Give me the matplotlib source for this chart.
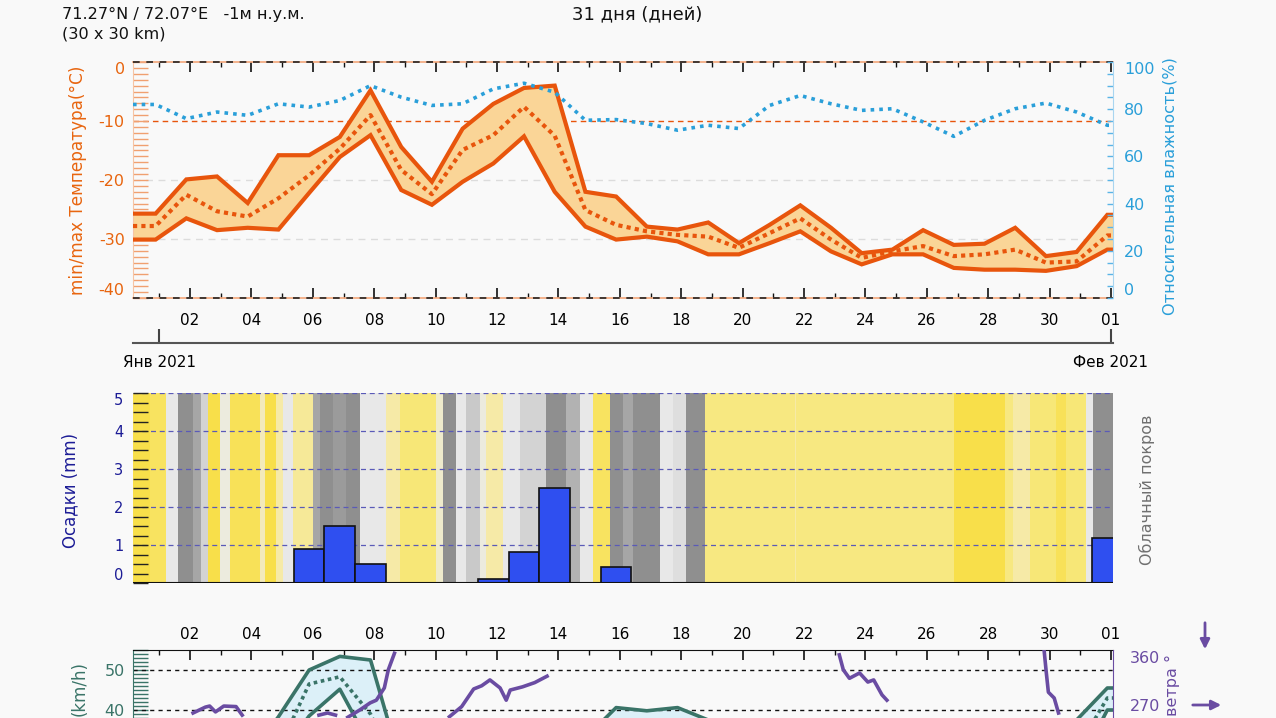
import numpy as np
import matplotlib
matplotlib.use('Agg')
import matplotlib.pyplot as plt
from matplotlib.colors import LinearSegmentedColormap
from matplotlib.ticker import MultipleLocator

# ---------------- data ----------------
day_idx = np.arange(32)            # 0 = 1 Jan 2021 ... 31 = 1 Feb 2021
sample_shift = -0.12               # daily samples sit slightly before midnight on the axis

t_max = [-25.7, -19.9, -19.4, -23.9, -15.8, -15.8, -12.7, -4.8, -14.4, -20.3, -11.3, -7.1,
         -4.4, -4.0, -22.0, -22.8, -27.9, -28.4, -27.2, -30.7, -27.6, -24.3, -28.1, -32.4,
         -31.8, -28.5, -31.0, -30.8, -28.1, -32.9, -32.2, -25.9]
t_min = [-30.1, -26.5, -28.5, -28.1, -28.4, -22.2, -16.1, -12.4, -21.7, -24.2, -20.3, -17.2,
         -12.6, -22.0, -27.9, -30.1, -29.6, -30.4, -32.6, -32.6, -30.7, -28.7, -32.1, -34.3,
         -32.6, -32.6, -34.9, -35.2, -35.2, -35.4, -34.6, -31.8]
t_mean = [-27.8, -22.5, -25.3, -26.2, -23.1, -19.2, -14.7, -9.0, -18.3, -22.4, -14.9, -12.4,
          -7.6, -12.5, -25.1, -27.6, -28.7, -29.3, -29.6, -31.5, -29.0, -26.5, -30.1, -33.2,
          -32.1, -31.2, -32.9, -32.6, -31.8, -34.0, -33.8, -29.4]
humidity = [82.0, 76.0, 78.8, 77.4, 82.3, 80.9, 83.7, 90.0, 85.1, 81.6, 82.3, 88.6,
            91.0, 87.2, 75.3, 75.6, 73.9, 71.1, 73.2, 71.8, 81.6, 85.8, 82.3, 79.5,
            80.2, 74.6, 68.5, 75.3, 80.2, 82.6, 78.8, 73.2]
precip = [0, 0, 0, 0, 0, 0.90, 1.51, 0.51, 0, 0, 0, 0.11,
          0.82, 2.51, 0, 0.43, 0, 0, 0, 0, 0, 0, 0, 0,
          0, 0, 0, 0, 0, 0, 0, 1.19]

# cloud cover (%) segments: start time in days from 1 Jan
cloud_start = [-0.86, -0.31, 0.23, 0.61, 1.10, 1.37, 1.59, 1.97, 2.29, 3.27, 3.43, 3.81,
               4.03, 4.36, 5.01, 5.22, 5.66, 6.09, 6.53, 7.39, 7.83, 9.02, 9.24, 9.67,
               10.0, 10.44, 10.65, 11.2, 11.74, 12.6, 13.26, 13.69, 14.13, 14.67, 15.1, 15.43,
               16.3, 16.73, 17.17, 17.77, 20.7, 20.75, 25.9, 27.54, 27.8, 28.35, 29.22, 29.54,
               30.2, 30.42]
cloud_pct = [5, 10, 55, 100, 85, 65, 5, 45, 8, 35, 5, 30,
             55, 25, 85, 100, 92, 100, 55, 30, 15, 40, 100, 55,
             70, 45, 30, 55, 65, 100, 80, 55, 10, 100, 85, 100,
             55, 60, 100, 18, 30, 18, 5, 18, 30, 15, 8, 15,
             55, 100]

wind_max = [20, 22, 24, 28, 38.3, 50.0, 53.4, 52.5, 26, 18, 16, 20,
            24, 28, 33, 40.6, 39.8, 40.6, 37.5, 30, 25, 24, 22, 20,
            18, 18, 20, 22, 24, 28, 37.5, 45.5]
wind_mean = [15, 17, 19, 22, 30, 46.5, 48.3, 39.0, 22, 14, 12, 15,
             18, 22, 27, 37.0, 36.5, 37.5, 33, 25, 20, 19, 17, 15,
             14, 14, 15, 17, 19, 22, 30, 43.0]
wind_min = [10, 12, 14, 17, 28, 38.5, 45.2, 31, 18, 10, 8, 10,
            13, 16, 21, 33, 33, 34, 29, 20, 16, 15, 13, 11,
            10, 10, 11, 13, 15, 17, 25, 40.0]

# wind direction (deg), visible segments only (NaN separates segments)
wdir_day = [1.10, 1.50, 1.64, 1.83, 2.10, 2.50, 2.70, np.nan,
            5.20, 5.48, 5.74, np.nan,
            6.14, 6.54, 6.87, 7.07, 7.33, 7.46, 7.66, np.nan,
            9.45, 9.85, 10.24, 10.50, 10.77, 11.10, 11.30, 11.43, 11.83, 12.23, 12.63, np.nan,
            22.15, 22.28, 22.48, 22.81, 23.08, 23.27, 23.54, 23.70, np.nan,
            28.82, 28.89, 28.96, 29.15, 29.29]
wdir_deg = [255, 266, 268, 257, 268, 267, 251, np.nan,
            251, 255, 251, np.nan,
            247, 261, 274, 279, 302, 336, 367, np.nan,
            248, 267, 300, 306, 317, 302, 279, 298, 304, 312, 324, np.nan,
            364, 336, 320, 330, 313, 317, 289, 279, np.nan,
            373, 332, 294, 283, 255]

day_labels = ['02', '04', '06', '08', '10', '12', '14', '16', '18', '20', '22', '24',
              '26', '28', '30', '01']
month_labels = ['Янв 2021', 'Фев 2021']
temp_ticks = [-40, -30, -20, -10, 0]
temp_tick_labels = ['-40', '-30', '-20', '-10', '0']
hum_ticks = [0, 20, 40, 60, 80, 100]
precip_ticks = [0, 1, 2, 3, 4, 5]
wind_ticks = [40, 50]
wdir_ticks = [270, 360]

# ---------------- layout ----------------
W, H = 1276, 718
BG = '#f9f9f9'
ORANGE = '#e8550c'
ORANGE_TXT = '#e8650f'
BLUE = '#2a9fd9'
NAVY = '#1c1c96'
TEAL = '#3a7468'
PURPLE = '#6a4ca2'

fig = plt.figure(figsize=(W / 100, H / 100), dpi=100, facecolor=BG)

def fax(left, top, right, bottom):
    return [left / W, (H - bottom) / H, (right - left) / W, (bottom - top) / H]

x_left = (133 - 159.3) / 30.7
x_right = (1113 - 159.3) / 30.7

xs = day_idx + sample_shift
xs_ext = np.concatenate([[x_left], xs, [x_right]])
def ext(v):
    v = list(v)
    return np.array([v[0]] + v + [v[-1]])

major_days = day_idx[1::2]

# ---------- panel 1: temperature / humidity ----------
ax1 = fig.add_axes(fax(133, 62, 1113, 298))
ax1.set_facecolor(BG)
ax1.set_xlim(x_left, x_right)
ax1.set_ylim(-40, 0)
ax1.fill_between(xs_ext, ext(t_min), ext(t_max), color='#fad597', lw=0, zorder=2)
ax1.plot(xs_ext, ext(t_max), color=ORANGE, lw=3, zorder=3, solid_joinstyle='miter')
ax1.plot(xs_ext, ext(t_min), color=ORANGE, lw=3, zorder=3, solid_joinstyle='miter')
ax1.plot(xs_ext, ext(t_mean), color=ORANGE, lw=3, ls=(0, (1, 1)), zorder=3)
ax1.axhline(-10, color=ORANGE, lw=1, ls=(0, (4, 3)), zorder=1)
for g in (-20, -30):
    ax1.axhline(g, color='#dcdcdc', lw=1, ls=(0, (5, 4)), zorder=1)
for g in (0, -40):
    ax1.axhline(g, color='#f4a77a', lw=1.2, zorder=4, clip_on=False)
    ax1.axhline(g, color='#222222', lw=1.2, ls=(0, (4, 4)), zorder=4, clip_on=False)
for s in ('top', 'bottom', 'right'):
    ax1.spines[s].set_visible(False)
ax1.spines['left'].set_color('#f6c4a4')
ax1.set_yticks(temp_ticks)
ax1.set_yticklabels(temp_tick_labels)
ax1.yaxis.set_minor_locator(MultipleLocator(1))
ax1.tick_params(axis='y', which='both', direction='in', length=11, width=1,
                color='#f0a070', labelcolor=ORANGE_TXT, labelsize=11.5, pad=6)
ylabs = ax1.get_yticklabels()
ylabs[0].set_va('bottom')
ylabs[-1].set_va('top')
ax1.set_xticks(major_days)
ax1.set_xticklabels(day_labels)
ax1.set_xticks(day_idx, minor=True)
ax1.tick_params(axis='x', which='major', direction='in', length=7, width=1.2,
                top=True, bottom=True, labelsize=11, pad=11, color='#111111')
ax1.tick_params(axis='x', which='minor', direction='in', length=3.5, width=1,
                top=True, bottom=True, color='#111111')

ax1h = ax1.twinx()
ax1h.set_ylim(0, 100)
ax1h.plot(xs_ext, ext(humidity), color=BLUE, lw=2.6, ls=(0, (1, 1.4)), zorder=5)
for s in ('top', 'bottom', 'left'):
    ax1h.spines[s].set_visible(False)
ax1h.spines['right'].set_color('#a9d5f0')
ax1h.set_yticks(hum_ticks)
ax1h.set_yticklabels([str(v) for v in hum_ticks])
ax1h.yaxis.set_minor_locator(MultipleLocator(5))
ax1h.tick_params(axis='y', which='both', direction='in', length=4, width=1,
                 color='#5ab4e6', labelcolor=BLUE, labelsize=11.5, pad=8)
hl = ax1h.get_yticklabels()
hl[0].set_va('bottom')
hl[-1].set_va('top')

# month axis under panel 1
axm = fig.add_axes(fax(133, 342.6, 1113, 342.8))
axm.patch.set_visible(False)
axm.set_xlim(x_left, x_right)
for s in ('top', 'left', 'right'):
    axm.spines[s].set_visible(False)
axm.spines['bottom'].set_color('#555555')
axm.spines['bottom'].set_linewidth(1.5)
axm.set_yticks([])
axm.set_xticks([day_idx[0], day_idx[-1]])
axm.set_xticklabels(month_labels)
axm.tick_params(axis='x', direction='in', length=10, width=1.5, color='#444444',
                labelsize=11, pad=9)

# ---------- panel 2: precipitation / cloud cover ----------
ax2 = fig.add_axes(fax(133, 393.3, 1113, 583.3))
ax2.set_facecolor(BG)
ax2.set_xlim(x_left, x_right)
ax2.set_ylim(0, 5)
cmap = LinearSegmentedColormap.from_list('cloud', [
    (0.0, '#f9db36'), (0.15, '#f7e777'), (0.3, '#f6eaa8'), (0.45, '#ecebde'),
    (0.55, '#e8e8e8'), (0.7, '#c9c9c9'), (0.85, '#a6a6a6'), (1.0, '#8f8f8f')])
cx = np.array(list(cloud_start) + [x_right])
ax2.pcolormesh(cx, [0, 5], np.array([cloud_pct]) / 100.0, cmap=cmap, vmin=0, vmax=1,
               shading='flat', zorder=0)
for g in range(1, 6):
    ax2.axhline(g, color='#5a5ab8', lw=0.9, ls=(0, (4, 3)), zorder=1)
ax2.bar(xs, precip, width=1.0, color='#2f4ff0', edgecolor='#111111', lw=1.2, zorder=2)
ax2.axhline(0, color='#111111', lw=1.5, zorder=3)
for s in ('top', 'bottom', 'right', 'left'):
    ax2.spines[s].set_visible(False)
ax2.set_xticks([])
ax2.set_yticks(precip_ticks)
ax2.set_yticklabels([str(v) for v in precip_ticks])
ax2.yaxis.set_minor_locator(MultipleLocator(0.25))
ax2.tick_params(axis='y', which='both', direction='in', length=11, width=1,
                color='#222222', labelcolor=NAVY, labelsize=10.5, pad=7)
pl = ax2.get_yticklabels()
pl[0].set_va('bottom')
pl[-1].set_va('top')

# ---------- panel 3: wind ----------
ax3 = fig.add_axes(fax(133, 650, 1113, 870))
ax3.set_facecolor(BG)
ax3.set_xlim(x_left, x_right)
ax3.set_ylim(0, 55)
ax3.fill_between(xs_ext, ext(wind_min), ext(wind_max), color='#dcf0f8', lw=0, zorder=1)
ax3.plot(xs_ext, ext(wind_max), color=TEAL, lw=2.6, zorder=3)
ax3.plot(xs_ext, ext(wind_min), color=TEAL, lw=2.6, zorder=3)
ax3.plot(xs_ext, ext(wind_mean), color=TEAL, lw=2.6, ls=(0, (1, 1)), zorder=3)
for g in (10, 20, 30, 40, 50):
    ax3.axhline(g, color='#111111', lw=1, ls=(0, (3, 3)), zorder=2)
for s in ('bottom', 'right'):
    ax3.spines[s].set_visible(False)
ax3.spines['top'].set_color('#111111')
ax3.spines['left'].set_color(TEAL)
ax3.set_yticks(wind_ticks)
ax3.set_yticklabels([str(v) for v in wind_ticks])
ax3.yaxis.set_minor_locator(MultipleLocator(1))
ax3.tick_params(axis='y', which='both', direction='in', length=11, width=1,
                color=TEAL, labelcolor=TEAL, labelsize=11.5, pad=6)
ax3.xaxis.tick_top()
ax3.set_xticks(major_days)
ax3.set_xticklabels(day_labels)
ax3.set_xticks(day_idx, minor=True)
ax3.tick_params(axis='x', which='major', direction='in', length=7, width=1.2,
                top=True, bottom=False, labeltop=True, labelbottom=False,
                labelsize=11, pad=6, color='#111111')
ax3.tick_params(axis='x', which='minor', direction='in', length=3.5, width=1,
                top=True, bottom=False, color='#111111')

ax3d = ax3.twinx()
ax3d.set_ylim(-39.4, 373.1)
ax3d.plot(wdir_day, wdir_deg, color=PURPLE, lw=2.6, zorder=5)
for s in ('top', 'bottom', 'left'):
    ax3d.spines[s].set_visible(False)
ax3d.spines['right'].set_color(PURPLE)
ax3d.set_yticks(wdir_ticks)
ax3d.set_yticklabels([str(v) for v in wdir_ticks])
ax3d.tick_params(axis='y', direction='in', length=0, labelcolor=PURPLE,
                 labelsize=11.5, pad=12)

# arrows at right of wind panel
fig.add_artist(matplotlib.patches.FancyArrowPatch(
    (1205 / W, (H - 620) / H), (1205 / W, (H - 652) / H), transform=fig.transFigure,
    arrowstyle='-|>', mutation_scale=14, color=PURPLE, lw=2))
fig.add_artist(matplotlib.patches.FancyArrowPatch(
    (1190 / W, (H - 705) / H), (1224 / W, (H - 705) / H), transform=fig.transFigure,
    arrowstyle='-|>', mutation_scale=14, color=PURPLE, lw=2))

# ---------- texts ----------
def ftext(x, y, s, **kw):
    fig.text(x / W, (H - y) / H, s, **kw)

ftext(62, 14, '71.27°N / 72.07°E   -1м н.у.м.', fontsize=11.6, va='center', ha='left',
      color='#111111')
ftext(62, 34, '(30 x 30 km)', fontsize=11.6, va='center', ha='left', color='#111111')
ftext(637, 14, '31 дня (дней)', fontsize=13, va='center', ha='center', color='#111111')
ftext(78, 180, 'min/max Температура(°C)', fontsize=12.2, rotation=90, va='center',
      ha='center', color=ORANGE_TXT)
ftext(1170, 186, 'Относительная влажность(%)', fontsize=11.6, rotation=90, va='center',
      ha='center', color=BLUE)
ftext(70, 490, 'Осадки (mm)', fontsize=12, rotation=90, va='center', ha='center', color=NAVY)
ftext(1147, 490, 'Облачный покров', fontsize=11.5, rotation=90, va='center', ha='center',
      color='#707070')
ftext(80, 716, '(km/h)', fontsize=12, rotation=90, va='bottom', ha='center',
      color=TEAL)
ftext(1172, 716, 'ветра °', fontsize=11.5, rotation=90, va='bottom', ha='center',
      color=PURPLE)

fig.savefig('out.png', dpi=100, facecolor=BG)
